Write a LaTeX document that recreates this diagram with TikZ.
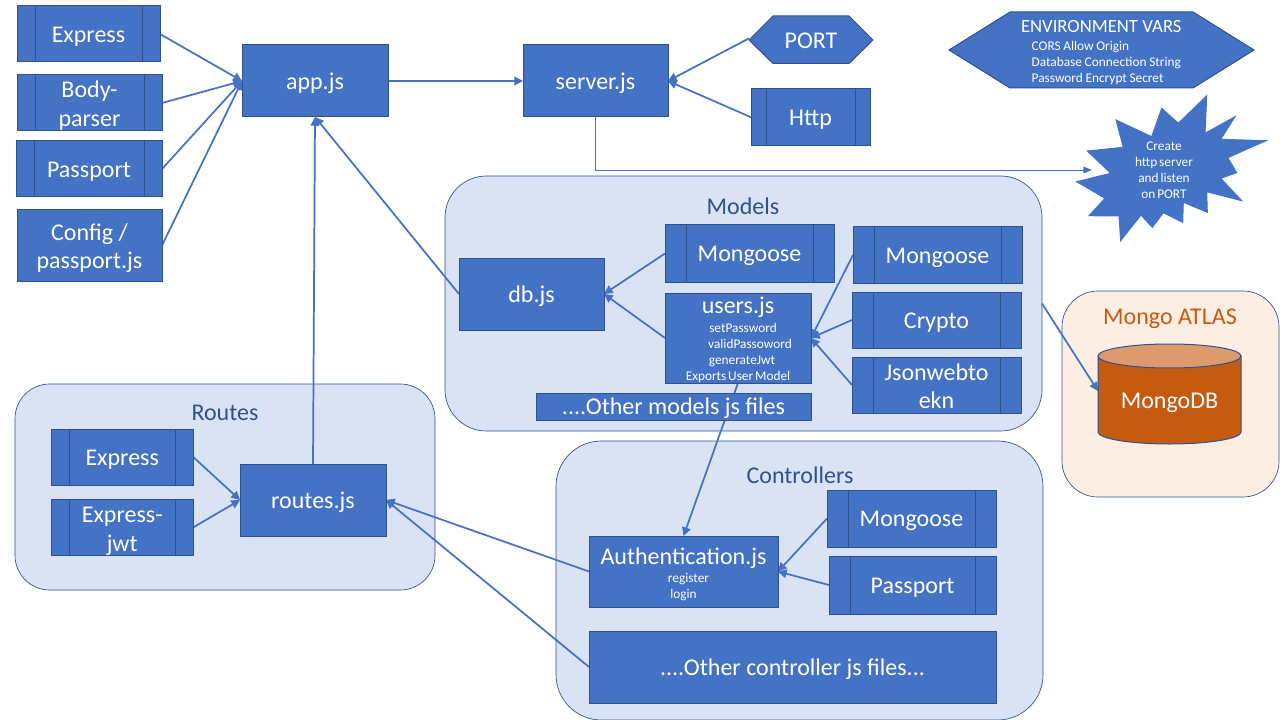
\documentclass[tikz,border=0pt]{standalone}
\usepackage{fontspec}
\setmainfont{Carlito}
\newfontfamily\tinyfam[WordSpace=0.6]{Carlito}
\usetikzlibrary{arrows.meta}
\pgfdeclarelayer{containers}
\pgfdeclarelayer{links}
\pgfsetlayers{containers,links,main}
\definecolor{blueFill}{HTML}{4472C4}
\definecolor{blueEdge}{HTML}{2F528F}
\definecolor{groupFill}{HTML}{DAE3F3}
\definecolor{atlasFill}{HTML}{FDEEE4}
\definecolor{rust}{HTML}{C55A11}
\definecolor{rustTop}{HTML}{DD9A6F}
\newcommand\headline[2]{\rule{0pt}{#1}\fontsize{18}{21}\selectfont\rmfamily #2}
\newcommand\firstline[1]{\rule{0pt}{#1}}
\tikzset{
  span/.style n args={4}{at={({(#1+#3)/2},{(#2+#4)/2})},
    minimum width={(#3-#1)*0.75pt}, minimum height={(#4-#2)*0.75pt}},
  bigtext/.style={font=\fontsize{18}{21.5}\selectfont, align=center, text=white,
    execute at begin node={\rule{0pt}{15.5pt}}},
  smalltext/.style={font=\tinyfam\fontsize{10}{12}\selectfont, text=white, execute at begin node={}},
  boxnode/.style={draw=blueEdge, fill=blueFill, line width=0.75pt, inner sep=0pt, outer sep=0pt, bigtext},
  procbox/.style={boxnode, path picture={
    \draw[blueEdge, line width=0.75pt]
      ([xshift=#1]path picture bounding box.north west) -- ([xshift=#1]path picture bounding box.south west)
      ([xshift=-#1]path picture bounding box.north east) -- ([xshift=-#1]path picture bounding box.south east);}},
  procbox/.default=13.5pt,
  group/.style={draw=blueEdge, fill=groupFill, line width=0.5pt, inner sep=0pt, outer sep=0pt},
  grouptitle/.style={font=\fontsize{18}{21}\selectfont, text=blueEdge, inner sep=0pt},
  flatshape/.style={draw=blueEdge, fill=blueFill, line width=0.75pt},
  plainnode/.style={inner sep=0pt, outer sep=0pt, text=white, align=center},
  link/.style={draw=blueFill, line width=1.3pt, -{Triangle[length=6.5pt,width=6.5pt]}},
  thinlink/.style={draw=blueFill, line width=0.6pt, -{Triangle[length=6.5pt,width=5pt]}},
}
\begin{document}
\begin{tikzpicture}[x=0.75pt,y=-0.75pt]
\useasboundingbox (0,0) rectangle (1280,720);
% containers
\begin{pgfonlayer}{containers}
  \fill[white] (0,0) rectangle (1280,720);
  \node[group, rounded corners=31pt, span={445}{176}{1042}{431}] (models) {};
  \node[group, rounded corners=26pt, span={15}{384}{435}{590}] (routesgroup) {};
  \node[group, rounded corners=34pt, span={556}{441}{1043}{720}] (controllers) {};
  \node[group, fill=atlasFill, rounded corners=27pt, span={1062}{291}{1279}{497}] (atlas) {};
\end{pgfonlayer}
\node[grouptitle] (modelstitle) at (743,206) {Models};
\node[grouptitle] (routestitle) at (225,413) {Routes};
\node[grouptitle] (controllerstitle) at (800,475) {Controllers};
\node[grouptitle, text=rust] (atlastitle) at (1170,319) {Mongo ATLAS};

% top left
\node[procbox, span={17}{6}{160}{62}] (express) {Express};
\node[procbox, span={17}{75}{162}{131}] (body) {\firstline{16.5pt}Body-\\parser};
\node[procbox, span={16}{141}{162}{197}] (passport) {Passport};
\node[boxnode, span={17}{210}{162}{281}] (config) {\firstline{16.5pt}Config /\\passport.js};
\node[boxnode, span={242}{45}{388}{117}] (app) {app.js};
\node[boxnode, span={523}{45}{668}{117}] (server) {server.js};

% PORT, Http
\draw[flatshape] (749,40) -- (773,16) -- (849,16) -- (873,40) -- (849,63.5) -- (773,63.5) -- cycle;
\node[plainnode, bigtext, span={749}{16}{873}{64}, yshift=1.25pt] (port) {PORT};
\node[procbox=11.25pt, span={751}{89}{870}{145.5}] (http) {Http};

% environment vars
\draw[flatshape] (949,50) -- (1010,12) -- (1193,12) -- (1254,50) -- (1193,88) -- (1010,88) -- cycle;
\node[plainnode, smalltext, span={949}{12}{1254}{88}, text width=228.75pt, align=left] (env)
  {\fontsize{14}{17}\selectfont\rmfamily\firstline{13.5pt}\hspace*{54pt}ENVIRONMENT VARS\\[1.5pt]
   \tinyfam\fontsize{10}{12}\selectfont\spaceskip=0.2em\relax\hspace*{62pt}CORS Allow Origin\\
   \hspace*{62pt}Database Connection String\\
   \hspace*{62pt}Password Encrypt Secret};

% star
\draw[flatshape, draw=blueFill] (1206.7,95.7) -- (1205,133.3) -- (1235,116.7) -- (1220.7,139.3) -- (1266,140.7)
  -- (1227.7,157.7) -- (1236.7,172.7) -- (1220.7,178.3) -- (1241.7,200.7) -- (1206.7,191.7) -- (1207.3,212.3)
  -- (1183.3,202.3) -- (1182.7,222.3) -- (1163.3,212.7) -- (1152.3,227.3) -- (1141,215) -- (1120.7,240.7)
  -- (1119,216) -- (1089,215.7) -- (1105,198.3) -- (1076.7,181.7) -- (1110.7,173.3) -- (1087.3,151)
  -- (1123.3,147.3) -- (1116,120) -- (1151.7,136.7) -- (1161.7,108.3) -- (1178.3,123.3) -- cycle;
\node[plainnode, smalltext] (starlabel) at (1164,170) {Create\\http server\\and listen\\on PORT};
\coordinate (starin) at (1092,170);

% models
\node[boxnode, span={459}{258}{604}{330}] (db) {db.js};
\node[procbox=15.75pt, span={665}{225}{834}{282}] (mongoosea) {Mongoose};
\node[boxnode, smalltext, span={665}{293}{811}{383}] (users)
  {\headline{15.25pt}{users.js}\\[2.25pt]
   \hspace*{7.5pt}setPassword\\
   \hspace*{18pt}validPassoword\\
   \hspace*{6pt}generateJwt\\
   Exports User Model};
\node[boxnode, span={536}{393}{811}{420}] (othermodels) {....Other models js files};
\node[procbox=15.75pt, span={853}{227}{1022}{283}] (mongooseb) {Mongoose};
\node[procbox=15.75pt, span={852}{292}{1021}{348}] (crypto) {Crypto};
\node[procbox=15.75pt, span={852}{357}{1021}{413}] (jwtlib) {\firstline{14.5pt}Jsonwebto\\ekn};

% routes
\node[procbox=13.5pt, span={51}{429}{193.5}{485.5}] (expressb) {Express};
\node[procbox=13.5pt, span={51}{499}{193.5}{555.5}] (expressjwt) {\firstline{17.5pt}Express-\\jwt};
\node[boxnode, span={240}{464}{386}{536}] (routes) {routes.js};

% controllers
\node[boxnode, smalltext, span={589}{536}{778}{607}] (auth)
  {\headline{16pt}{Authentication.js}\\[1.5pt]
   \hspace*{7.5pt}register\\
   login};
\node[procbox=15.75pt, span={827}{490}{996}{547}] (mongoosec) {Mongoose};
\node[procbox=15.75pt, span={829}{556}{996}{614}] (passportb) {Passport};
\node[boxnode, span={589}{631}{996}{703}] (othercontrollers) {....Other controller js files...};

% MongoDB cylinder
\draw[flatshape, fill=rust] (1098,356) -- (1098,432) arc[start angle=180, end angle=360, x radius=71.5, y radius=-12] -- (1241,356) -- cycle;
\draw[flatshape, fill=rustTop] (1169.5,356) ellipse[x radius=71.5, y radius=12];
\node[plainnode, bigtext, span={1098}{344}{1241}{444}, yshift=-4.5pt] (mongodb) {MongoDB};
\coordinate (dbin) at (1098,391);

% connectors
\begin{pgfonlayer}{links}
  \draw[link] (express.east) -- (app.west);
  \draw[link] (body.east) -- (app.west);
  \draw[link] (passport.east) -- (app.west);
  \draw[link] (config.east) -- (app.west);
  \draw[link] (app.east) -- (server.west);
  \draw[link] (port.west) -- (server.east);
  \draw[link] (http.west) -- (server.east);
  \draw[thinlink] (server.south) |- (starin);
  \draw[link] (db.west) -- (app.south);
  \draw[link] (routes.north) -- (app.south);
  \draw[link] (mongoosea.west) -- (db.east);
  \draw[link] (users.west) -- (db.east);
  \draw[link] (mongooseb.west) -- (users.east);
  \draw[link] (crypto.west) -- (users.east);
  \draw[link] (jwtlib.west) -- (users.east);
  \draw[link] (users.south) -- (auth.north);
  \draw[link] (models.east) -- (dbin);
  \draw[link] (expressb.east) -- (routes.west);
  \draw[link] (expressjwt.east) -- (routes.west);
  \draw[link] (auth.west) -- (routes.east);
  \draw[link] (othercontrollers.west) -- (routes.east);
  \draw[link] (mongoosec.west) -- (auth.east);
  \draw[link] (passportb.west) -- (auth.east);
\end{pgfonlayer}
\end{tikzpicture}
\end{document}
